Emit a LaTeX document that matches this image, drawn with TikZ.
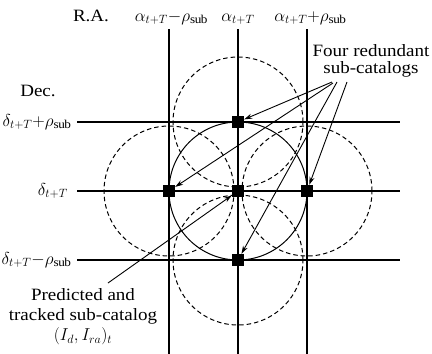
\documentclass[tikz,border=0pt]{standalone}
\usepackage{fontspec}
\setmainfont{Liberation Serif}[FakeStretch=1.1]
\usetikzlibrary{arrows.meta}

\begin{document}
\begin{tikzpicture}[x=1pt,y=-1pt,
        grid/.style={line width=1.1pt},
        subcat/.style={fill=black, rectangle, minimum size=12pt, inner sep=0pt},
        ring/.style={line width=1pt, dash pattern=on 4.5pt off 3pt},
        lbl/.style={font=\fontsize{17.28}{20}\selectfont, inner sep=0pt},
        pointer/.style={-{Stealth[length=8pt,width=5pt]}, line width=0.9pt}]
    \useasboundingbox (0,0) rectangle (432,354);
    \begin{scope}[shift={(238,191)}]
        % search regions
        \draw[line width=1pt] (0,0) circle (69pt);
        \foreach \c in {(0,-69),(-69,0),(69,0),(0,69)}
            \draw[ring] \c circle (65pt);
        % R.A. / Dec. grid
        \foreach \p in {-69,0,69} {
            \draw[grid] (\p,-162) -- (\p,163);
            \draw[grid] (-161,\p) -- (162,\p);
        }
        \node[subcat] (top) at (0,-69) {};
        \node[subcat] (left) at (-69,0) {};
        \node[subcat] (mid) at (0,0) {};
        \node[subcat] (right) at (69,0) {};
        \node[subcat] (bot) at (0,69) {};
        % axis labels
        \node[lbl, anchor=base] (ra) at (-147,-170) {R.A.};
        \node[lbl, anchor=base] (aminus) at (-67,-170) {$\alpha_{t+T}{-}\rho_{\mathrm{sub}}$};
        \node[lbl, anchor=base] (acenter) at (0,-170) {$\alpha_{t+T}$};
        \node[lbl, anchor=base] (aplus) at (72,-170) {$\alpha_{t+T}{+}\rho_{\mathrm{sub}}$};
        \node[lbl] (dec) at (-200,-100) {Dec.};
        \node[lbl, anchor=east] (dplus) at (-167,-69) {$\delta_{t+T}{+}\rho_{\mathrm{sub}}$};
        \node[lbl, anchor=east] (dcenter) at (-170,0) {$\delta_{t+T}$};
        \node[lbl, anchor=east] (dminus) at (-167,69) {$\delta_{t+T}{-}\rho_{\mathrm{sub}}$};
        % callouts
        \node[lbl, align=center] (four) at (133,-130) {Four redundant\\[-3pt]sub-catalogs};
        \node[lbl, align=center] (pred) at (-155,126) {Predicted and\\tracked sub-catalog\\$(I_d,I_{ra})_t$};
        \coordinate (f1) at (94,-109);
        \coordinate (f2) at (95,-108);
        \coordinate (f3) at (99,-109);
        \coordinate (f4) at (109,-109);
        \coordinate (p1) at (-130,92);
        \draw[pointer] (f1) -- (top);
        \draw[pointer] (f2) -- (left);
        \draw[pointer] (f3) -- (bot);
        \draw[pointer] (f4) -- (right);
        \draw[pointer] (p1) -- (mid);
    \end{scope}
\end{tikzpicture}
\end{document}
